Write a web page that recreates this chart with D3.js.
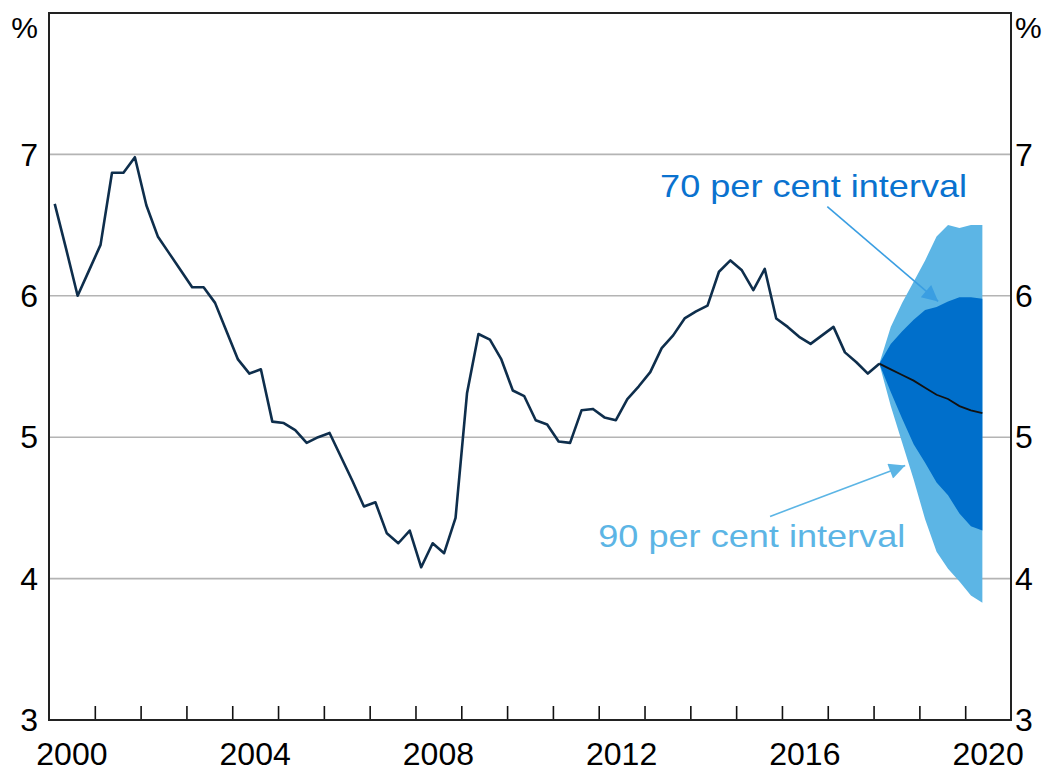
<!DOCTYPE html>
<html>
<head>
<meta charset="utf-8">
<script src="https://cdn.jsdelivr.net/npm/d3@7"></script>
<style>
  body { margin: 0; background: #fff; }
  svg { display: block; font-family: "Liberation Sans", Arial, sans-serif; }
</style>
</head>
<body>
<div id="container"></div>
<script>
/* CONSTANTS AND GLOBALS */
const width = 1047,
  height = 771,
  margin = { top: 13, right: 36, bottom: 51, left: 49 };

// quarterly unemployment rate, 2000 Q1 .. 2018 Q1
const unemployment = [
  6.65, 6.33, 6.00, 6.18, 6.36, 6.87, 6.87, 6.98, 6.64, 6.42,
  6.30, 6.18, 6.06, 6.06, 5.95, 5.75, 5.55, 5.45, 5.48, 5.11,
  5.10, 5.05, 4.96, 5.00, 5.03, 4.86, 4.69, 4.51, 4.54, 4.32,
  4.25, 4.34, 4.08, 4.25, 4.18, 4.43, 5.31, 5.73, 5.69, 5.55,
  5.33, 5.29, 5.12, 5.09, 4.97, 4.96, 5.19, 5.20, 5.14, 5.12,
  5.27, 5.36, 5.46, 5.63, 5.72, 5.84, 5.89, 5.93, 6.17, 6.25,
  6.18, 6.04, 6.19, 5.84, 5.78, 5.71, 5.66, 5.72, 5.78, 5.60,
  5.53, 5.45, 5.52
];

// forecast, 2018 Q1 .. 2020 Q2
const forecastStart = 72; // quarter index of 2018 Q1
const forecastCentral = [5.52, 5.48, 5.44, 5.40, 5.35, 5.30, 5.27, 5.22, 5.19, 5.17];
const upper70 = [5.52, 5.66, 5.75, 5.83, 5.90, 5.92, 5.96, 5.99, 5.99, 5.98];
const lower70 = [5.52, 5.32, 5.13, 4.95, 4.82, 4.68, 4.59, 4.46, 4.37, 4.34];
const upper90 = [5.52, 5.78, 5.95, 6.10, 6.25, 6.42, 6.50, 6.48, 6.50, 6.50];
const lower90 = [5.52, 5.22, 4.96, 4.70, 4.42, 4.19, 4.07, 3.98, 3.88, 3.83];

const yTicks = [3, 4, 5, 6, 7];
const yearLabels = [2000, 2004, 2008, 2012, 2016, 2020];
const yearTicks = d3.range(2001, 2021);

const quarterDate = i => 2000 + (i + 0.5) / 4;

const svg = d3.select("#container")
  .append("svg")
  .attr("width", width)
  .attr("height", height);

/* SCALES */
const xScale = d3.scaleLinear()
  .domain([2000, 2021])
  .range([margin.left, width - margin.right - 0]);

const yScale = d3.scaleLinear()
  .domain([3, 8])
  .range([height - margin.bottom, margin.top]);

const x0 = xScale.range()[0], x1 = xScale.range()[1];
const y0 = yScale.range()[0], y1 = yScale.range()[1];

// gridlines
svg.append("g")
  .selectAll("line")
  .data([4, 5, 6, 7])
  .join("line")
  .attr("x1", x0).attr("x2", x1)
  .attr("y1", d => yScale(d)).attr("y2", d => yScale(d))
  .attr("stroke", "#b4b4b4")
  .attr("stroke-width", 1.6);

/* BANDS */
const fc = forecastCentral.map((v, j) => ({
  t: quarterDate(forecastStart + j), c: v,
  u70: upper70[j], l70: lower70[j], u90: upper90[j], l90: lower90[j]
}));

const band = (hi, lo) => d3.area()
  .x(d => xScale(d.t))
  .y0(d => yScale(d[lo]))
  .y1(d => yScale(d[hi]));

svg.append("path").datum(fc)
  .attr("d", band("u90", "l90"))
  .attr("fill", "#5cb5e5");

svg.append("path").datum(fc)
  .attr("d", band("u70", "l70"))
  .attr("fill", "#006fcb");

/* LINES */
const line = d3.line()
  .x(d => xScale(d.t))
  .y(d => yScale(d.v));

svg.append("path")
  .datum(unemployment.map((v, i) => ({ t: quarterDate(i), v })))
  .attr("d", line)
  .attr("fill", "none")
  .attr("stroke", "#0e2e4c")
  .attr("stroke-width", 2.6)
  .attr("stroke-linejoin", "round");

svg.append("path")
  .datum(fc.map(d => ({ t: d.t, v: d.c })))
  .attr("d", line)
  .attr("fill", "none")
  .attr("stroke", "#111")
  .attr("stroke-width", 1.8);

/* AXES */
const xAxis = d3.axisBottom(xScale)
  .tickValues(yearTicks)
  .tickSizeInner(-14)
  .tickSizeOuter(0)
  .tickFormat("");

svg.append("g")
  .attr("class", "x-axis")
  .attr("transform", `translate(0,${y0})`)
  .call(xAxis)
  .call(g => g.select(".domain").remove())
  .selectAll("line")
  .attr("stroke", "#111")
  .attr("stroke-width", 1.6);

svg.append("g")
  .selectAll("text")
  .data(yearLabels)
  .join("text")
  .attr("x", d => xScale(d + 0.5))
  .attr("y", y0 + 45)
  .attr("text-anchor", "middle")
  .attr("font-size", 32)
  .attr("fill", "#000")
  .text(d => d);

// frame
svg.append("rect")
  .attr("x", x0).attr("y", y1)
  .attr("width", x1 - x0).attr("height", y0 - y1)
  .attr("fill", "none")
  .attr("stroke", "#222")
  .attr("stroke-width", 2);

// y labels both sides
const yLab = svg.append("g").attr("font-size", 32).attr("fill", "#000");
yLab.selectAll(".yl")
  .data(yTicks)
  .join("text")
  .attr("class", "yl")
  .attr("x", x0 - 11)
  .attr("y", d => yScale(d))
  .attr("dy", "0.35em")
  .attr("text-anchor", "end")
  .text(d => d);
yLab.selectAll(".yr")
  .data(yTicks)
  .join("text")
  .attr("class", "yr")
  .attr("x", x1 + 4)
  .attr("y", d => yScale(d))
  .attr("dy", "0.35em")
  .attr("text-anchor", "start")
  .text(d => d);
yLab.append("text")
  .attr("x", x0 - 11).attr("y", y1 + 14).attr("dy", "0.35em")
  .attr("text-anchor", "end").attr("font-size", 30).text("%");
yLab.append("text")
  .attr("x", x1 + 4).attr("y", y1 + 14).attr("dy", "0.35em")
  .attr("text-anchor", "start").attr("font-size", 30).text("%");

/* ANNOTATIONS */
const defs = svg.append("defs");
const marker = (id, color) => defs.append("marker")
  .attr("id", id)
  .attr("viewBox", "0 0 10 10")
  .attr("refX", 10).attr("refY", 5)
  .attr("markerUnits", "userSpaceOnUse")
  .attr("markerWidth", 26).attr("markerHeight", 16)
  .attr("orient", "auto")
  .append("path")
  .attr("d", "M0,0 L10,5 L0,10 Z")
  .attr("fill", color);
marker("arr70", "#3a9ee2");
marker("arr90", "#5cb5e5");

const notes = [
  { text: "70 per cent interval", color: "#0a72cf", tx: 2013.34, ty: 6.70,
    from: [2016.99, 6.63], to: [2019.41, 5.96], lineColor: "#3a9ee2", id: "arr70" },
  { text: "90 per cent interval", color: "#5cb5e5", tx: 2011.99, ty: 4.22,
    from: [2015.74, 4.44], to: [2018.69, 4.80], lineColor: "#5cb5e5", id: "arr90" }
];

notes.forEach(n => {
  svg.append("line")
    .attr("x1", xScale(n.from[0])).attr("y1", yScale(n.from[1]))
    .attr("x2", xScale(n.to[0])).attr("y2", yScale(n.to[1]))
    .attr("stroke", n.lineColor)
    .attr("stroke-width", 1.6)
    .attr("marker-end", `url(#${n.id})`);
  svg.append("text")
    .attr("x", xScale(n.tx)).attr("y", yScale(n.ty))
    .attr("font-size", 32)
    .attr("fill", n.color)
    .attr("textLength", 307)
    .attr("lengthAdjust", "spacingAndGlyphs")
    .text(n.text);
});
</script>
</body>
</html>
